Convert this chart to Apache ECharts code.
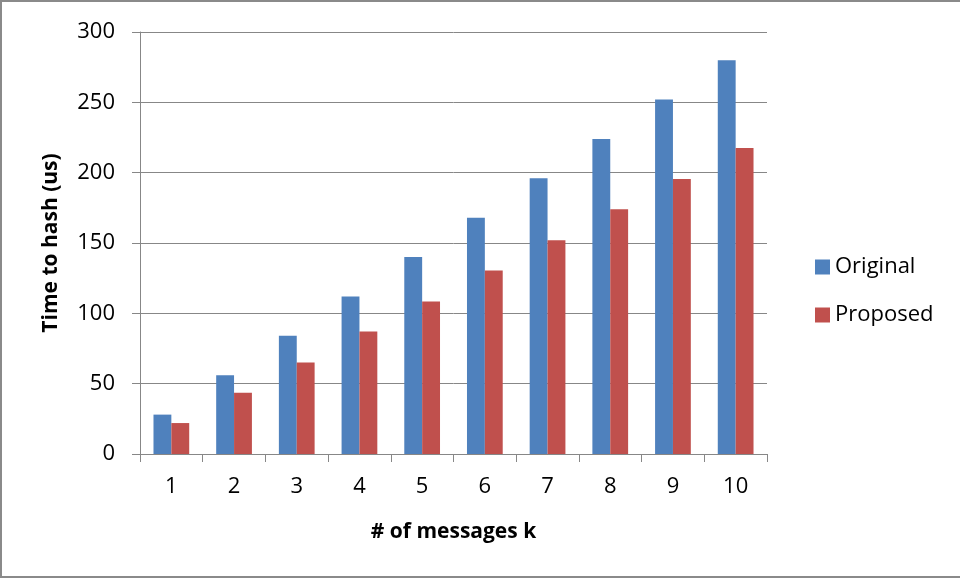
<!DOCTYPE html>
<html>
<head>
<meta charset="utf-8">
<style>
  html, body { margin: 0; padding: 0; background: #ffffff; }
  #chart { width: 960px; height: 579px; }
</style>
<script src="https://cdn.jsdelivr.net/npm/echarts@6/dist/echarts.min.js"></script>
</head>
<body>
<div id="chart"></div>
<script>
// Number of messages k
const categories = ['1', '2', '3', '4', '5', '6', '7', '8', '9', '10'];
// Hashing time in microseconds
const originalTimes = [28, 56, 84, 112, 140, 168, 196, 224, 252, 280];
const proposedTimes = [22, 43.5, 65, 87, 108.5, 130.5, 152, 174, 195.5, 217.5];
const seriesNames = ['Original', 'Proposed'];

const FONT = '"Open Sans", "Noto Sans", sans-serif';
const GRID_GRAY = '#878787';

const chart = echarts.init(document.getElementById('chart'), null, { renderer: 'canvas' });

chart.setOption({
  animation: false,
  backgroundColor: '#ffffff',
  textStyle: { fontFamily: FONT },
  graphic: [{
    type: 'rect',
    shape: { x: 1, y: 1, width: 990, height: 576 },
    style: { fill: 'none', stroke: '#8a8a8a', lineWidth: 2 },
    silent: true
  }],
  grid: { left: 140, right: 193, top: 32, bottom: 125, containLabel: false },
  legend: {
    orient: 'vertical',
    left: 810,
    top: 251,
    itemWidth: 15,
    itemHeight: 15,
    itemGap: 26,
    icon: 'rect',
    data: seriesNames,
    textStyle: { fontFamily: FONT, fontSize: 22, color: '#000000', padding: [0, 0, 0, 0] }
  },
  xAxis: {
    type: 'category',
    data: categories,
    name: '# of messages k',
    nameLocation: 'middle',
    nameGap: 68,
    nameTextStyle: { fontFamily: FONT, fontSize: 21, fontWeight: 'bold', color: '#000000' },
    axisLine: { lineStyle: { color: GRID_GRAY, width: 1 } },
    axisTick: { show: true, length: 8, lineStyle: { color: GRID_GRAY } },
    axisLabel: { margin: 22, fontFamily: FONT, fontSize: 22, color: '#000000' }
  },
  yAxis: {
    type: 'value',
    min: 0,
    max: 300,
    interval: 50,
    name: 'Time to hash (us)',
    nameLocation: 'middle',
    nameGap: 78,
    nameRotate: 90,
    nameTextStyle: { fontFamily: FONT, fontSize: 21, fontWeight: 'bold', color: '#000000' },
    axisLine: { show: true, lineStyle: { color: GRID_GRAY, width: 1 } },
    axisTick: { show: true, length: 8, lineStyle: { color: GRID_GRAY } },
    axisLabel: { margin: 25, fontFamily: FONT, fontSize: 22, color: '#000000' },
    splitLine: { show: true, lineStyle: { color: GRID_GRAY, width: 1 } }
  },
  series: [
    {
      name: seriesNames[0],
      type: 'bar',
      data: originalTimes,
      barGap: '0%',
      barCategoryGap: '43%',
      itemStyle: { color: '#4f81bd' }
    },
    {
      name: seriesNames[1],
      type: 'bar',
      data: proposedTimes,
      barGap: '0%',
      barCategoryGap: '43%',
      itemStyle: { color: '#c0504d' }
    }
  ]
});
</script>
</body>
</html>
